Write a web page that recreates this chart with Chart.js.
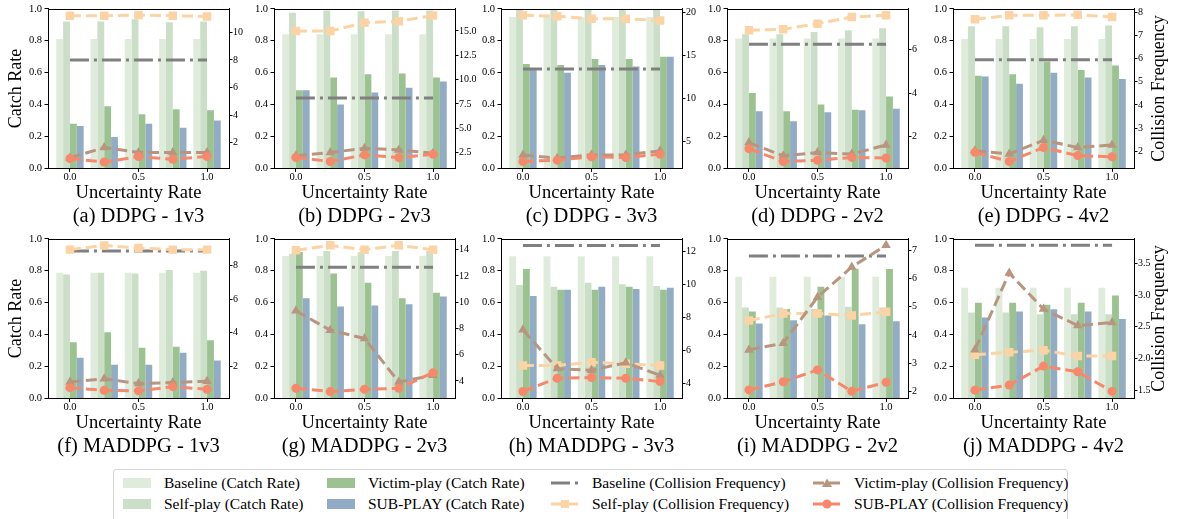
<!DOCTYPE html>
<html>
<head>
<meta charset="utf-8">
<script src="https://cdn.jsdelivr.net/npm/chart.js@4.4.0/dist/chart.umd.min.js"></script>
<style>
body { margin: 0; width: 1181px; height: 519px; overflow: hidden; background: #fff; position: relative; font-family: 'Liberation Serif', serif; }
canvas.panel { position: absolute; }
#legend { position: absolute; left: 113px; top: 469px; width: 955px; height: 60px; border: 1px solid #d6d6d6; border-radius: 3px; box-sizing: border-box; }
.item { position: absolute; height: 20px; font-size: 15.5px; line-height: 20px; color: #000; white-space: nowrap; }
.item .sw { position: absolute; left: 0; top: 5px; width: 28px; height: 10px; }
.item svg { position: absolute; left: 0; top: 3px; }
.item span { position: absolute; left: 41px; top: 0; }
</style>
</head>
<body>
<div id="legend"></div>
<script>
// x positions (uncertainty rate) and tick labels
const xs = [0, 0.25, 0.5, 0.75, 1.0];
const xTicks = [0, 0.5, 1.0];
const crTicks = [0, 0.2, 0.4, 0.6, 0.8, 1.0];

const panelTitles = ['(a) DDPG - 1v3', '(b) DDPG - 2v3', '(c) DDPG - 3v3', '(d) DDPG - 2v2', '(e) DDPG - 4v2',
  '(f) MADDPG - 1v3', '(g) MADDPG - 2v3', '(h) MADDPG - 3v3', '(i) MADDPG - 2v2', '(j) MADDPG - 4v2'];

// catch rate (bars), one row per panel
const baselineCR = [
  [0.81, 0.81, 0.81, 0.81, 0.81],
  [0.84, 0.84, 0.84, 0.84, 0.84],
  [0.948, 0.948, 0.948, 0.948, 0.948],
  [0.814, 0.814, 0.814, 0.814, 0.814],
  [0.81, 0.81, 0.81, 0.81, 0.81],
  [0.787, 0.787, 0.787, 0.787, 0.787],
  [0.892, 0.892, 0.892, 0.892, 0.892],
  [0.89, 0.89, 0.89, 0.89, 0.89],
  [0.762, 0.762, 0.762, 0.762, 0.762],
  [0.694, 0.694, 0.694, 0.694, 0.694]
];
const selfCR = [
  [0.92, 0.92, 0.935, 0.915, 0.92],
  [0.975, 0.99, 0.985, 0.99, 0.99],
  [1.0, 1.0, 1.0, 1.0, 1.0],
  [0.84, 0.84, 0.855, 0.865, 0.878],
  [0.89, 0.89, 0.885, 0.89, 0.895],
  [0.776, 0.787, 0.783, 0.805, 0.80],
  [0.907, 0.923, 0.915, 0.923, 0.923],
  [0.71, 0.70, 0.725, 0.716, 0.704],
  [0.57, 0.57, 0.56, 0.575, 0.57],
  [0.538, 0.538, 0.528, 0.528, 0.528]
];
const victimCR = [
  [0.28, 0.39, 0.34, 0.37, 0.365],
  [0.49, 0.57, 0.59, 0.595, 0.57],
  [0.654, 0.648, 0.685, 0.685, 0.70],
  [0.472, 0.358, 0.40, 0.368, 0.451],
  [0.58, 0.59, 0.67, 0.617, 0.644],
  [0.352, 0.414, 0.317, 0.323, 0.364],
  [0.917, 0.783, 0.725, 0.627, 0.662],
  [0.81, 0.68, 0.68, 0.70, 0.68],
  [0.545, 0.56, 0.70, 0.813, 0.81],
  [0.60, 0.60, 0.586, 0.60, 0.644]
];
const subplayCR = [
  [0.265, 0.197, 0.28, 0.255, 0.30],
  [0.49, 0.40, 0.475, 0.505, 0.545],
  [0.627, 0.60, 0.648, 0.638, 0.70],
  [0.358, 0.296, 0.352, 0.364, 0.373],
  [0.576, 0.53, 0.60, 0.57, 0.56],
  [0.255, 0.211, 0.211, 0.286, 0.238],
  [0.627, 0.576, 0.582, 0.59, 0.638],
  [0.642, 0.68, 0.70, 0.685, 0.694],
  [0.47, 0.49, 0.52, 0.464, 0.483],
  [0.507, 0.545, 0.559, 0.545, 0.497]
];

// collision frequency (lines, right axis)
const baselineCF = [8.0, 8.1, 13.42, 6.23, 5.95, 8.84, 12.67, 12.34, 6.8, 3.79];
const selfCF = [
  [11.2, 11.2, 11.25, 11.2, 11.15],
  [15.0, 15.0, 15.85, 16.0, 16.6],
  [19.7, 19.6, 19.3, 19.3, 19.1],
  [6.88, 6.92, 7.18, 7.48, 7.56],
  [7.69, 7.86, 7.86, 7.88, 7.79],
  [8.92, 9.17, 9.02, 8.92, 8.92],
  [13.95, 14.33, 14.0, 14.33, 14.0],
  [5.09, 5.09, 5.29, 5.19, 5.09],
  [4.51, 4.76, 4.76, 4.69, 4.82],
  [2.06, 2.1, 2.13, 2.04, 2.04]
];
const victimCF = [
  [0.9, 1.65, 1.3, 1.3, 1.3],
  [2.16, 2.5, 2.94, 2.77, 2.43],
  [3.38, 3.0, 3.38, 3.38, 3.85],
  [1.73, 1.12, 1.27, 1.2, 1.62],
  [2.03, 1.89, 2.48, 2.17, 2.28],
  [1.1, 1.29, 1.0, 1.06, 1.14],
  [9.34, 7.87, 7.24, 3.92, 4.43],
  [7.24, 4.9, 4.8, 5.25, 4.5],
  [3.47, 3.71, 5.34, 6.41, 7.18],
  [2.14, 3.35, 2.78, 2.52, 2.57]
];
const subplayCF = [
  [0.85, 0.6, 1.0, 0.8, 1.0],
  [1.99, 1.58, 2.26, 1.99, 2.33],
  [2.61, 2.76, 3.15, 3.07, 3.46],
  [1.45, 0.86, 0.92, 1.05, 1.02],
  [1.96, 1.57, 2.17, 1.82, 1.77],
  [0.76, 0.6, 0.57, 0.82, 0.66],
  [3.44, 3.19, 3.36, 3.44, 4.63],
  [3.52, 4.32, 4.36, 4.32, 4.12],
  [2.05, 2.34, 2.76, 2.0, 2.32],
  [1.5, 1.58, 1.88, 1.79, 1.48]
];

// right axis range and tick labels per panel
const cfMin = [0.14, 0.87, 1.8, 0.545, 1.27, 0.125, 2.67, 3.1, 1.75, 1.37];
const cfMax = [11.7, 17.28, 20.46, 7.86, 8.14, 9.56, 14.83, 12.74, 7.41, 3.89];
const cfTicks = [
  [2, 4, 6, 8, 10],
  [2.5, 5, 7.5, 10, 12.5, 15],
  [5, 10, 15, 20],
  [2, 4, 6],
  [2, 3, 4, 5, 6, 7, 8],
  [2, 4, 6, 8],
  [4, 6, 8, 10, 12, 14],
  [4, 6, 8, 10, 12],
  [2, 3, 4, 5, 6, 7],
  [1.5, 2, 2.5, 3, 3.5]
];
const cfDigits = [0, 1, 0, 0, 0, 0, 0, 0, 0, 1];

const colors = {
  baseBar: '#e0ecdb', selfBar: '#cbdfc8', victimBar: '#9dc292', subBar: '#93acc6',
  baseLine: '#808080', selfLine: '#fcd3a5', victimLine: '#b9947f', subLine: '#f7886b'
};
const FONT = "'Liberation Serif', 'Times New Roman', serif";
Chart.defaults.font.family = FONT;
Chart.defaults.color = '#000';

const plotLefts = [48, 274, 501, 727, 953];
const LEFT_W = 48, RIGHT_W = 34, PLOT_W = 181;

// top spine (other spines come from the axes)
const frame = {
  id: 'frame',
  afterDraw(chart) {
    const a = chart.chartArea, ctx = chart.ctx;
    ctx.save();
    ctx.strokeStyle = '#000';
    ctx.lineWidth = 1;
    ctx.beginPath();
    ctx.moveTo(Math.round(a.left), Math.round(a.top) + 0.5);
    ctx.lineTo(Math.round(a.right), Math.round(a.top) + 0.5);
    ctx.stroke();
    ctx.restore();
  }
};

// right-hand axis label, reading bottom to top like the left one
const rightTitle = {
  id: 'rightTitle',
  afterDraw(chart, args, opts) {
    if (!opts.text) return;
    const a = chart.chartArea, ctx = chart.ctx;
    ctx.save();
    ctx.translate(a.right + opts.offset, (a.top + a.bottom) / 2);
    ctx.rotate(-Math.PI / 2);
    ctx.font = '18px ' + FONT;
    ctx.fillStyle = '#000';
    ctx.textAlign = 'center';
    ctx.textBaseline = 'middle';
    ctx.fillText(opts.text, 0, 0);
    ctx.restore();
  }
};

const pts = arr => arr.map((v, j) => ({ x: xs[j], y: v }));

function tickGrid() {
  return { display: true, drawOnChartArea: false, drawTicks: true, tickLength: 3.5, color: '#000', lineWidth: 1 };
}

for (let i = 0; i < 10; i++) {
  const col = i % 5, row = Math.floor(i / 5);
  const cv = document.createElement('canvas');
  cv.className = 'panel';
  cv.width = LEFT_W + PLOT_W + RIGHT_W;
  cv.height = 229;
  cv.style.left = (plotLefts[col] - LEFT_W) + 'px';
  cv.style.top = (row === 0 ? 0 : 230) + 'px';
  document.body.appendChild(cv);

  const lineBase = { type: 'line', yAxisID: 'y1', tension: 0, fill: false, borderWidth: 3, borderDash: [11, 5], pointBorderWidth: 0 };

  new Chart(cv, {
    type: 'bar',
    data: {
      datasets: [
        { ...lineBase, label: 'SUB-PLAY (Collision Frequency)', data: pts(subplayCF[i]), borderColor: colors.subLine,
          pointStyle: 'circle', pointRadius: 4.5, pointBackgroundColor: colors.subLine, order: 0 },
        { ...lineBase, label: 'Victim-play (Collision Frequency)', data: pts(victimCF[i]), borderColor: colors.victimLine,
          pointStyle: 'triangle', pointRadius: 5.5, pointBackgroundColor: colors.victimLine, order: 1 },
        { ...lineBase, label: 'Self-play (Collision Frequency)', data: pts(selfCF[i]), borderColor: colors.selfLine,
          pointStyle: 'rect', pointRadius: 6, pointBackgroundColor: colors.selfLine, order: 2 },
        { ...lineBase, label: 'Baseline (Collision Frequency)', data: [{ x: xs[0], y: baselineCF[i] }, { x: xs[4], y: baselineCF[i] }],
          borderColor: colors.baseLine, borderDash: [19, 5, 3, 5], pointRadius: 0, order: 3 },
        { label: 'Baseline (Catch Rate)', data: pts(baselineCR[i]), backgroundColor: colors.baseBar, yAxisID: 'y', order: 4 },
        { label: 'Self-play (Catch Rate)', data: pts(selfCR[i]), backgroundColor: colors.selfBar, yAxisID: 'y', order: 5 },
        { label: 'Victim-play (Catch Rate)', data: pts(victimCR[i]), backgroundColor: colors.victimBar, yAxisID: 'y', order: 6 },
        { label: 'SUB-PLAY (Catch Rate)', data: pts(subplayCR[i]), backgroundColor: colors.subBar, yAxisID: 'y', order: 7 }
      ]
    },
    options: {
      responsive: false,
      animation: false,
      events: [],
      layout: { padding: { top: 7, left: 0, right: 0, bottom: 0 } },
      datasets: { bar: { categoryPercentage: 0.8, barPercentage: 1.0, borderWidth: 0 } },
      scales: {
        x: {
          type: 'linear', min: -0.16, max: 1.16, offset: false,
          grid: { ...tickGrid(), offset: false },
          border: { display: true, color: '#000', width: 1 },
          afterBuildTicks: s => { s.ticks = xTicks.map(v => ({ value: v })); },
          ticks: { font: { family: FONT, size: 10.5 }, color: '#000', padding: -1, maxRotation: 0,
            callback: v => Number(v).toFixed(1) },
          title: { display: true, text: 'Uncertainty Rate', color: '#000', font: { family: FONT, size: 18.5 }, padding: { top: 0, bottom: 0 } },
          afterFit: s => { s.height = 36; }
        },
        y: {
          position: 'left', min: 0, max: 1,
          grid: tickGrid(),
          border: { display: true, color: '#000', width: 1 },
          afterBuildTicks: s => { s.ticks = crTicks.map(v => ({ value: v })); },
          ticks: { font: { family: FONT, size: 10.5 }, color: '#000', padding: 2.5, callback: v => Number(v).toFixed(1) },
          title: { display: col === 0, text: 'Catch Rate', color: '#000', font: { family: FONT, size: 18 }, padding: { top: 5, bottom: 0 } },
          afterFit: s => { s.width = LEFT_W; }
        },
        y1: {
          position: 'right', min: cfMin[i], max: cfMax[i],
          grid: tickGrid(),
          border: { display: true, color: '#000', width: 1 },
          afterBuildTicks: s => { s.ticks = cfTicks[i].map(v => ({ value: v })); },
          ticks: { font: { family: FONT, size: 10 }, color: '#000', padding: 0.5, callback: v => Number(v).toFixed(cfDigits[i]) },
          afterFit: s => { s.width = RIGHT_W; }
        }
      },
      plugins: {
        legend: { display: false },
        tooltip: { enabled: false },
        title: { display: true, position: 'bottom', fullSize: false, text: panelTitles[i], color: '#000',
          font: { family: FONT, size: 20.5, weight: 'normal', lineHeight: 1.2 }, padding: { top: 0, bottom: 0 } },
        rightTitle: { text: col === 4 ? 'Collision Frequency' : '', offset: 25 }
      }
    },
    plugins: [frame, rightTitle]
  });
}

// legend (column-major, 4 columns x 2 rows)
const legendItems = [
  { label: 'Baseline (Catch Rate)', kind: 'bar', color: colors.baseBar },
  { label: 'Self-play (Catch Rate)', kind: 'bar', color: colors.selfBar },
  { label: 'Victim-play (Catch Rate)', kind: 'bar', color: colors.victimBar },
  { label: 'SUB-PLAY (Catch Rate)', kind: 'bar', color: colors.subBar },
  { label: 'Baseline (Collision Frequency)', kind: 'line', color: colors.baseLine, dash: '19,5,3,5', marker: null },
  { label: 'Self-play (Collision Frequency)', kind: 'line', color: colors.selfLine, dash: '11,5', marker: 'rect' },
  { label: 'Victim-play (Collision Frequency)', kind: 'line', color: colors.victimLine, dash: '11,5', marker: 'triangle' },
  { label: 'SUB-PLAY (Collision Frequency)', kind: 'line', color: colors.subLine, dash: '11,5', marker: 'circle' }
];
const legendColX = [9, 213, 437, 699];
const legendRowY = [3, 24];
const legend = document.getElementById('legend');
legendItems.forEach((it, k) => {
  const d = document.createElement('div');
  d.className = 'item';
  d.style.left = legendColX[Math.floor(k / 2)] + 'px';
  d.style.top = legendRowY[k % 2] + 'px';
  let sw;
  if (it.kind === 'bar') {
    sw = '<div class="sw" style="background:' + it.color + '"></div>';
  } else {
    let m = '';
    if (it.marker === 'rect') m = '<rect x="10" y="3" width="8" height="8" fill="' + it.color + '"/>';
    if (it.marker === 'triangle') m = '<polygon points="14,2.5 19,11 9,11" fill="' + it.color + '"/>';
    if (it.marker === 'circle') m = '<circle cx="14" cy="7" r="4.5" fill="' + it.color + '"/>';
    sw = '<svg width="28" height="14"><line x1="0" y1="7" x2="28" y2="7" stroke="' + it.color +
      '" stroke-width="3" stroke-dasharray="' + it.dash + '"/>' + m + '</svg>';
  }
  d.innerHTML = sw + '<span>' + it.label + '</span>';
  legend.appendChild(d);
});
</script>
</body>
</html>
